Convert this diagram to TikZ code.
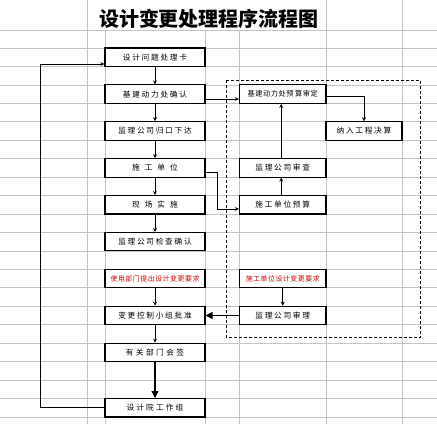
\documentclass[tikz,border=0pt]{standalone}
\usepackage{fontspec}
\usetikzlibrary{arrows.meta}
\setmainfont{Noto Sans CJK SC}
\newfontfamily\cjkls[LetterSpace=22]{Noto Sans CJK SC}
\newfontfamily\cjkred[LetterSpace=8]{Noto Sans CJK SC}
\definecolor{gridc}{HTML}{C4C4C4}
\definecolor{redtxt}{HTML}{D00000}
\tikzset{
  gridline/.style={draw=gridc, line width=0.8pt},
  cellbox/.style={draw=black, fill=white, line width=1.1pt, inner sep=0pt,
    minimum height=18.45pt, font=\fontsize{7.7}{8}\cjkls},
  leftbox/.style={cellbox, minimum width=100pt},
  rightbox/.style={cellbox, minimum width=86.5pt},
  redbox/.style={font=\fontsize{6.9}{8}\cjkred, text=redtxt},
  conn/.style={draw=black, line width=0.9pt, -{Stealth[length=4pt,width=4pt]}},
  bigconn/.style={draw=black, line width=1.2pt, -{Triangle[length=7pt,width=7pt]}},
}
\begin{document}
\begin{tikzpicture}[x=1pt,y=-1pt]
\useasboundingbox (0,0) rectangle (437,424);
\fill[white] (0,0) rectangle (437,424);
% spreadsheet grid
\foreach \x in {87,326,402} \draw[gridline] (\x,0) -- (\x,424);
\foreach \x in {105,205,239.5} \draw[gridline] (\x,30) -- (\x,424);
\draw[gridline] (0,30) -- (437,30);
\foreach \k in {0,...,20} \draw[gridline] (0,{48+18.45*\k}) -- (437,{48+18.45*\k});
% title
\node (title) at (209,18.5) {\fontsize{20}{22}\selectfont\bfseries 设计变更处理程序流程图};
% dashed frame
\draw[dashed, line width=0.9pt, dash pattern=on 3pt off 2pt] (226,80.3) rectangle (420.5,337.3);
% left column
\node[leftbox] (n1) at (155,57.2) {设计问题处理卡};
\node[leftbox] (n2) at (155,94.1) {基建动力处确认};
\node[leftbox] (n3) at (155,131.0) {监理公司归口下达};
\node[leftbox] (n4) at (155,167.9) {施\hspace{5pt}工\hspace{5pt}单\hspace{5pt}位};
\node[leftbox] (n5) at (155,204.8) {现\hspace{5pt}场\hspace{5pt}实\hspace{5pt}施};
\node[leftbox] (n6) at (155,241.7) {监理公司检查确认};
\node[leftbox, redbox] (n7) at (155,278.6) {使用部门提出设计变更要求};
\node[leftbox] (n8) at (155,315.5) {变更控制小组批准};
\node[leftbox] (n9) at (155,352.4) {有\hspace{2.4pt}关\hspace{2.4pt}部\hspace{2.4pt}门\hspace{2.4pt}会\hspace{2.4pt}签};
\node[leftbox] (n10) at (155,407.8) {设\hspace{2.1pt}计\hspace{2.1pt}院\hspace{2.1pt}工\hspace{2.1pt}作\hspace{2.1pt}组};
% right column
\node[rightbox, font=\fontsize{7.2}{8}\cjkred] (r1) at (282.75,94.1) {基建动力处预\hspace{1.5pt}算审定};
\node[cellbox, minimum width=76pt] (r2) at (364,131.0) {纳入工程决算};
\node[rightbox] (r3) at (282.75,167.9) {监理公司审查};
\node[rightbox] (r4) at (282.75,204.8) {施工单位预算};
\node[rightbox, redbox] (r5) at (282.75,278.6) {施工单位设计变更要求};
\node[rightbox] (r6) at (282.75,315.5) {监理公司审理};
% loop coordinates
\coordinate (L2) at (40,64);
% connectors left column
\draw[conn] (n1) -- (n2);
\draw[conn] (n2) -- (n3);
\draw[conn] (n3) -- (n4);
\draw[conn] (n4) -- (n5);
\draw[conn] (n5) -- (n6);
\draw[conn] (n7) -- (n8);
\draw[conn] (n8) -- (n9);
\draw[bigconn] (n9) -- (n10);
\draw[conn] (n10.west) -| (L2) -- ([yshift=-6.8pt]n1.west);
% connectors right column
\draw[conn] ([yshift=-4.9pt]n2.east) -- ([yshift=-4.9pt]r1.west);
\draw[conn] ([yshift=-2.6pt]r1.east) -| (r2.north);
\draw[conn] ([xshift=-1.5pt]r3.north) -- ([xshift=-1.5pt]r1.south);
\draw[conn] ([xshift=-1.5pt]r4.north) -- ([xshift=-1.5pt]r3.south);
\draw[conn] ([yshift=-4.4pt]n4.east) -- ++(12.3,0) |- ([yshift=-4.2pt]r4.west);
\draw[conn] (r5) -- (r6);
\draw[bigconn, line width=0.9pt] (r6) -- (n8);
\end{tikzpicture}
\end{document}
